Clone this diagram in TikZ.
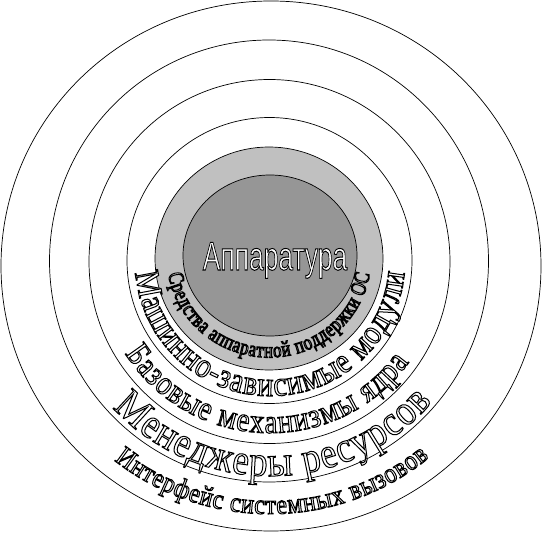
\documentclass[tikz,border=0pt]{standalone}
\usepackage{fontspec}
\setmainfont{Liberation Serif}
\newfontfamily\sansf{Liberation Sans}
\newfontfamily\serifN[FakeStretch=0.86]{Liberation Serif}
\newfontfamily\serifM[FakeStretch=0.76]{Liberation Serif}
\usetikzlibrary{decorations.text}
\definecolor{darkgr}{RGB}{150,150,150}
\definecolor{lightgr}{RGB}{192,192,192}
\newcommand\outl{\color{white}\special{pdf:literal direct 0 G 2 Tr 1 w}}
\tikzset{
  ring/.style={draw=black, line width=0.7pt},
}
% #1 font family, #2 size, #3 centre, #4 x radius, #5 y radius, #6 start, #7 end, #8 text
\newcommand\ringtext[8]{%
  \path[decorate, decoration={text along path, text align={fit to path},
     text={|#1\fontsize{#2}{#2}\selectfont\outl|#8}}]
     ([shift={(#6:#4 and #5)}]#3) arc[start angle=#6, end angle=#7, x radius=#4, y radius=#5];}
\begin{document}
\begin{tikzpicture}[x=1pt,y=1pt]
\useasboundingbox (0,0) rectangle (543,533);
\coordinate (C) at (270,272);
\coordinate (G) at (269,274.5);
% rings
\draw[ring] (271,267) ellipse[x radius=270, y radius=265];
\draw[ring] (269,272) ellipse[x radius=219.5, y radius=221];
\draw[ring] (269.5,271.5) ellipse[x radius=180.5, y radius=182];
\draw[ring] (269.5,272.5) ellipse[x radius=142.5, y radius=143];
\draw[ring, fill=lightgr] (G) ellipse[x radius=114, y radius=111.5];
\draw[ring, fill=darkgr] (270,277.5) ellipse[x radius=87, y radius=80.5];
% centre label
\node[xscale=0.66, anchor=base, inner sep=0pt, font=\sansf\fontsize{40}{40}\selectfont] (hw) at (275,263) {\outl Аппаратура};
% ring labels
\ringtext{\serifM}{22}{G}{102}{99}{189}{351}{Средства аппаратной поддержки ОС}
\ringtext{\serifN}{35}{C}{135}{135}{185}{355}{Машинно-зависимые модули}
\ringtext{\serifN}{34}{C}{172}{172}{212.5}{324}{Базовые механизмы ядра}
\ringtext{\serifN}{43}{C}{215}{215}{223}{319}{Менеджеры ресурсов}
\ringtext{\serifN}{28}{C}{253}{253}{232}{309}{Интерфейс системных вызовов}
\end{tikzpicture}
\end{document}
